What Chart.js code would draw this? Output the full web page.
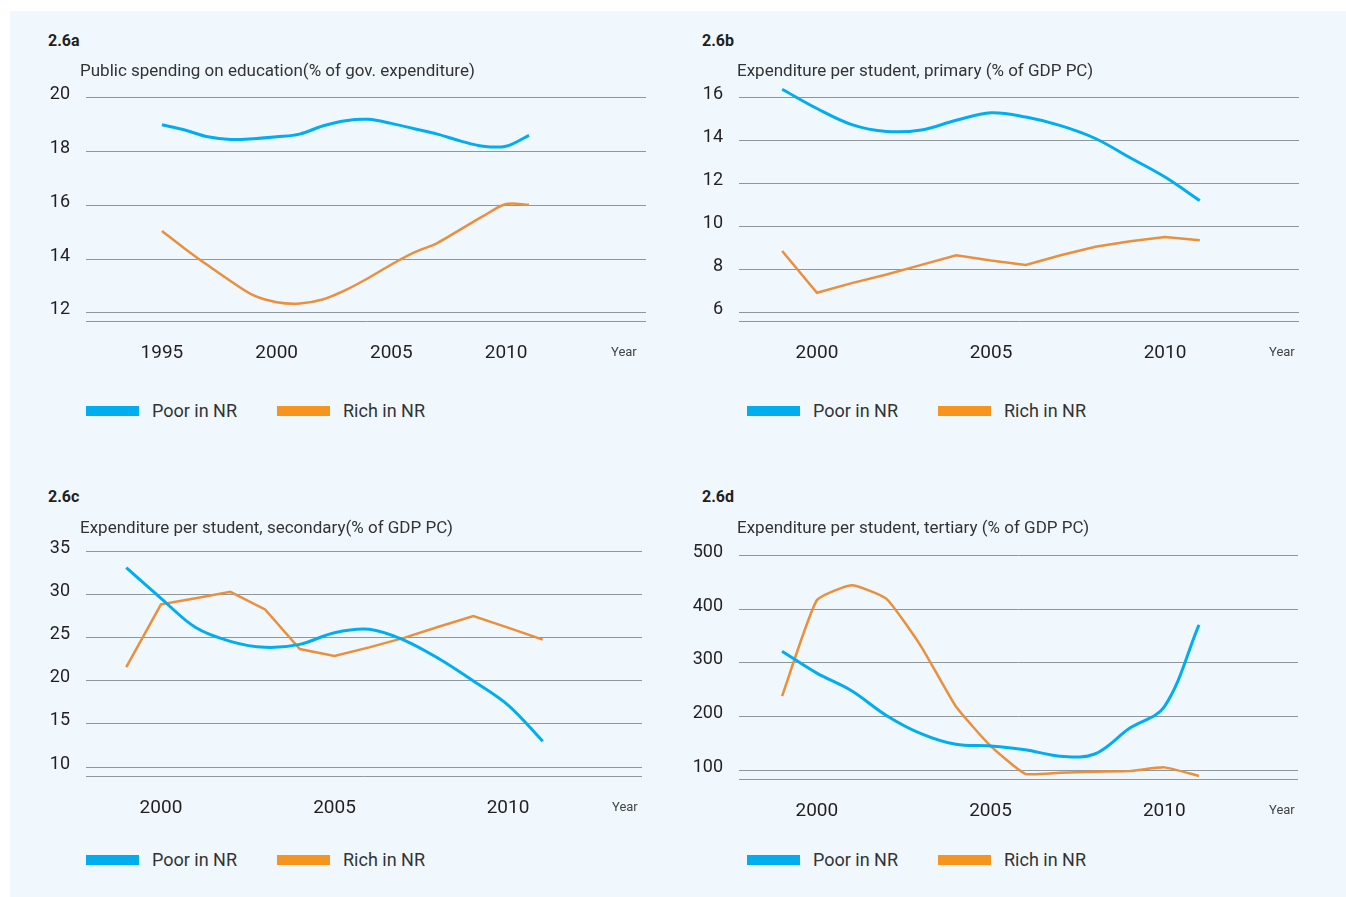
<!DOCTYPE html>
<html>
<head>
<meta charset="utf-8">
<script src="https://cdn.jsdelivr.net/npm/chart.js@4.4.0/dist/chart.umd.min.js"></script>
<style>
    body { margin: 0; background: #fff; width: 1346px; height: 897px; overflow: hidden;
           font-family: Roboto, "DejaVu Sans", sans-serif; color: #231f20; }
    #panel { position: absolute; left: 10px; top: 11px; width: 1336px; height: 886px; background: #f0f8fe; }
    .txt { position: absolute; white-space: nowrap; line-height: 20px; }
    .num { font-weight: bold; font-size: 16px; }
    .ttl { font-size: 17px; color: #333; }
    .year { font-size: 13px; color: #444; }
    .lgtxt { font-size: 18px; color: #333; }
    .box { position: absolute; width: 53px; height: 10px; }
    canvas { position: absolute; }
</style>
</head>
<body>
<div id="panel"></div>
<canvas id="c_a"></canvas>
<canvas id="c_b"></canvas>
<canvas id="c_c"></canvas>
<canvas id="c_d"></canvas>
<script>
// series names
const seriesNames = ['Poor in NR', 'Rich in NR'];

// 2.6a public spending on education (% of gov. expenditure)
const yearsA = [1995, 1996, 1997, 1998, 1999, 2000, 2001, 2002, 2003, 2004, 2005, 2006, 2007, 2008, 2009, 2010, 2011];
const poorA = [19.0, 18.8, 18.55, 18.45, 18.48, 18.55, 18.65, 18.95, 19.15, 19.2, 19.05, 18.85, 18.65, 18.4, 18.2, 18.2, 18.6];
const richA = [15.05, 14.39, 13.77, 13.18, 12.65, 12.4, 12.35, 12.5, 12.85, 13.3, 13.8, 14.25, 14.6, 15.1, 15.6, 16.05, 16.02];
const xTicksA = [1995, 2000, 2005, 2010];
const yTicksA = [12, 14, 16, 18, 20];

// 2.6b expenditure per student, primary
const yearsB = [1999, 2000, 2001, 2002, 2003, 2004, 2005, 2006, 2007, 2008, 2009, 2010, 2011];
const poorB = [16.4, 15.5, 14.75, 14.43, 14.5, 14.95, 15.3, 15.1, 14.7, 14.1, 13.2, 12.3, 11.2];
const richB = [8.85, 6.9, 7.35, 7.75, 8.2, 8.65, 8.4, 8.2, 8.65, 9.05, 9.3, 9.5, 9.35];
const xTicksB = [2000, 2005, 2010];
const yTicksB = [6, 8, 10, 12, 14, 16];

// 2.6c expenditure per student, secondary
const yearsC = [1999, 2000, 2001, 2002, 2003, 2004, 2005, 2006, 2007, 2008, 2009, 2010, 2011];
const poorC = [33.15, 29.6, 26.2, 24.6, 23.9, 24.25, 25.6, 26.0, 24.75, 22.6, 20.0, 17.2, 13.0];
const richC = [21.6, 28.9, 29.6, 30.35, 28.3, 23.7, 22.9, 23.9, 25.0, 26.3, 27.55, 26.2, 24.8];
const xTicksC = [2000, 2005, 2010];
const yTicksC = [10, 15, 20, 25, 30, 35];

// 2.6d expenditure per student, tertiary
const yearsD = [1999, 2000, 2001, 2002, 2003, 2004, 2005, 2006, 2007, 2008, 2009, 2010, 2011];
const poorD = [322, 281, 248, 202, 168, 148, 145, 138, 126, 130, 178, 218, 371];
const richD = [238, 417, 445, 420, 331, 219, 145, 93, 95, 97, 98, 105, 89];
const xTicksD = [2000, 2005, 2010];
const yTicksD = [100, 200, 300, 400, 500];

const FONT = 'Roboto, "DejaVu Sans", sans-serif';
const COLORS = { poor: '#00aeef', rich: '#ea8f3c', richKey: '#f7941d', grid: '#8e979b', text: '#231f20' };

// layout of each panel (pixels on the page)
const panels = [
    { id: 'c_a', tag: '2.6a', title: 'Public spending on education(% of gov. expenditure)',
      years: yearsA, poor: poorA, rich: richA, xTicks: xTicksA, yTicks: yTicksA,
      xMin: 1991.69, xMax: 2016.1, yMin: 11.7, yMax: 20, tPoor: 0.35, tRich: 0.3,
      left: 86, right: 646, top: 97, bottom: 321, yW: 46,
      tagX: 48, tagY: 41, titleX: 80, titleY: 70, yearX: 611, yearY: 352, keyX: 86, keyY: 411 },
    { id: 'c_b', tag: '2.6b', title: 'Expenditure per student, primary (% of GDP PC)',
      years: yearsB, poor: poorB, rich: richB, xTicks: xTicksB, yTicks: yTicksB,
      xMin: 1997.76, xMax: 2013.85, yMin: 5.58, yMax: 16, tPoor: 0.35, tRich: 0,
      left: 739, right: 1299, top: 97, bottom: 321, yW: 52,
      tagX: 702, tagY: 41, titleX: 737, titleY: 70, yearX: 1269, yearY: 352, keyX: 747, keyY: 411 },
    { id: 'c_c', tag: '2.6c', title: 'Expenditure per student, secondary(% of GDP PC)',
      years: yearsC, poor: poorC, rich: richC, xTicks: xTicksC, yTicks: yTicksC,
      xMin: 1997.84, xMax: 2013.86, yMin: 8.96, yMax: 35, tPoor: 0.35, tRich: 0,
      left: 86, right: 642, top: 551, bottom: 776, yW: 46,
      tagX: 48, tagY: 497, titleX: 80, titleY: 527, yearX: 612, yearY: 807, keyX: 86, keyY: 860 },
    { id: 'c_d', tag: '2.6d', title: 'Expenditure per student, tertiary (% of GDP PC)',
      years: yearsD, poor: poorD, rich: richD, xTicks: xTicksD, yTicks: yTicksD,
      xMin: 1997.76, xMax: 2013.85, yMin: 83.3, yMax: 500, tPoor: 0.35, tRich: 0.15,
      left: 739, right: 1298, top: 555, bottom: 779, yW: 52,
      tagX: 702, tagY: 497, titleX: 737, titleY: 527, yearX: 1269, yearY: 810, keyX: 747, keyY: 860 }
];

function addText(cls, text, x, cy) {
    const el = document.createElement('div');
    el.className = 'txt ' + cls;
    el.textContent = text;
    el.style.left = x + 'px';
    el.style.top = (cy - 10) + 'px';
    document.body.appendChild(el);
}

function addKey(chart, x, cy) {
    const keyColors = [COLORS.poor, COLORS.richKey];
    chart.data.datasets.forEach((ds, i) => {
        const bx = x + i * 191;
        const box = document.createElement('div');
        box.className = 'box';
        box.style.left = bx + 'px';
        box.style.top = (cy - 5) + 'px';
        box.style.background = keyColors[i];
        document.body.appendChild(box);
        addText('lgtxt', ds.label, bx + 66, cy);
    });
}

function makeChart(p) {
    const canvas = document.getElementById(p.id);
    const padTop = 12, scalePadTop = 14, xAxisH = 45;
    const cLeft = p.left - p.yW, cTop = p.top - padTop - scalePadTop;
    canvas.width = p.right - cLeft;
    canvas.height = p.bottom + xAxisH - cTop;
    canvas.style.left = cLeft + 'px';
    canvas.style.top = cTop + 'px';

    const chart = new Chart(canvas, {
        type: 'line',
        data: {
            datasets: [
                { label: seriesNames[0], data: p.years.map((x, i) => ({ x: x, y: p.poor[i] })),
                  borderColor: COLORS.poor, borderWidth: 3, tension: p.tPoor, pointRadius: 0, clip: false },
                { label: seriesNames[1], data: p.years.map((x, i) => ({ x: x, y: p.rich[i] })),
                  borderColor: COLORS.rich, borderWidth: 2.5, tension: p.tRich, pointRadius: 0, clip: false }
            ]
        },
        options: {
            responsive: false,
            animation: false,
            devicePixelRatio: 1,
            layout: { padding: { top: padTop, right: 0, bottom: 0, left: 0 } },
            plugins: { legend: { display: false }, tooltip: { enabled: false } },
            scales: {
                x: {
                    type: 'linear', min: p.xMin, max: p.xMax,
                    afterBuildTicks: s => { s.ticks = p.xTicks.map(v => ({ value: v })); },
                    afterFit: s => { s.height = xAxisH; },
                    grid: { drawOnChartArea: false, drawTicks: false },
                    border: { display: true, color: COLORS.grid, width: 1 },
                    ticks: { padding: 21, color: COLORS.text, maxRotation: 0, autoSkip: false,
                             font: { family: FONT, size: 19 }, callback: v => String(v) }
                },
                y: {
                    type: 'linear', min: p.yMin, max: p.yMax,
                    afterBuildTicks: s => { s.ticks = p.yTicks.map(v => ({ value: v })); },
                    afterFit: s => { s.width = p.yW; },
                    grid: { color: COLORS.grid, lineWidth: 1, drawTicks: false },
                    border: { display: false },
                    ticks: { padding: 16, color: COLORS.text, labelOffset: -3,
                             font: { family: FONT, size: 18 } }
                }
            }
        }
    });

    addText('num', p.tag, p.tagX, p.tagY);
    addText('ttl', p.title, p.titleX, p.titleY);
    addText('year', 'Year', p.yearX, p.yearY);
    addKey(chart, p.keyX, p.keyY);
    return chart;
}

window.onload = function () {
    panels.forEach(makeChart);
};
</script>
</body>
</html>
